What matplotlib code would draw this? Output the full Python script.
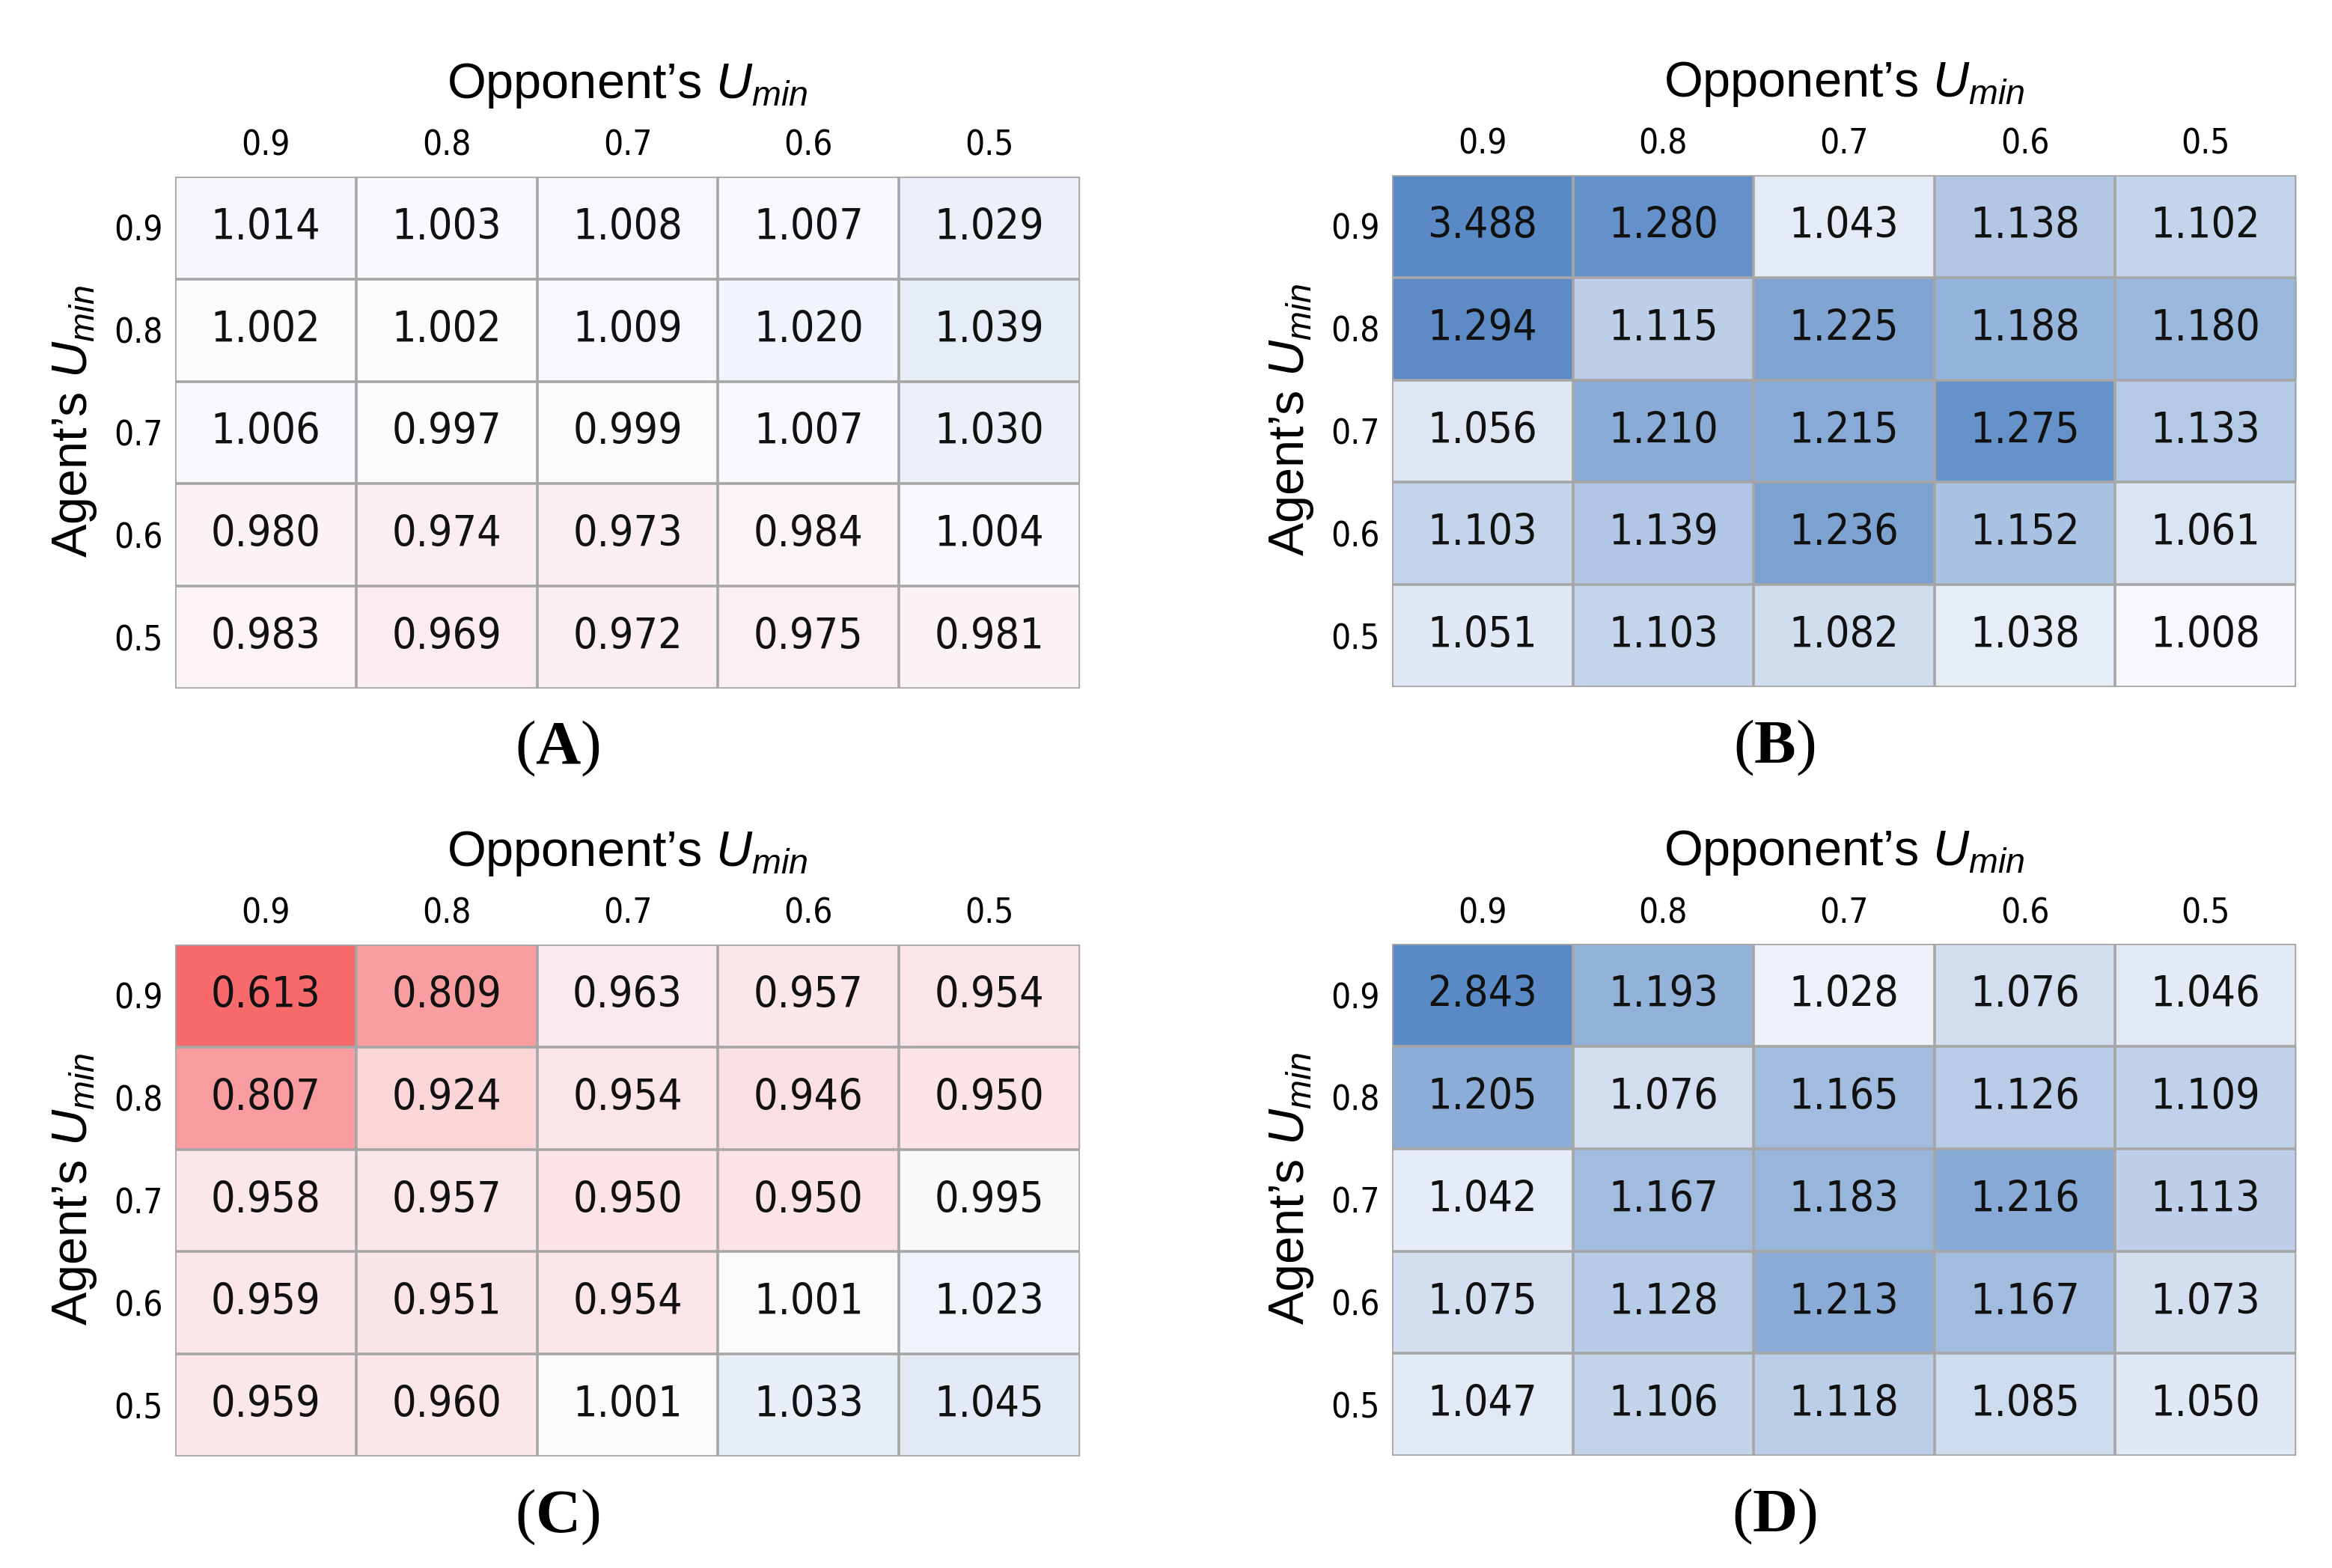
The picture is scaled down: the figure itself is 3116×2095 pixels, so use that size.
import numpy as np
import matplotlib.pyplot as plt
from matplotlib.colors import LinearSegmentedColormap, TwoSlopeNorm

plt.rcParams['mathtext.fontset'] = 'custom'
plt.rcParams['mathtext.it'] = 'Liberation Sans:italic'
plt.rcParams['mathtext.rm'] = 'Liberation Serif'
plt.rcParams['mathtext.bf'] = 'Liberation Serif:bold'

# Data (rows: agent's Umin, cols: opponent's Umin)
umin_labels = ['0.9', '0.8', '0.7', '0.6', '0.5']
panel_names = ['A', 'B', 'C', 'D']

vals_A = [[1.014, 1.003, 1.008, 1.007, 1.029],
          [1.002, 1.002, 1.009, 1.020, 1.039],
          [1.006, 0.997, 0.999, 1.007, 1.030],
          [0.980, 0.974, 0.973, 0.984, 1.004],
          [0.983, 0.969, 0.972, 0.975, 0.981]]
vals_B = [[3.488, 1.280, 1.043, 1.138, 1.102],
          [1.294, 1.115, 1.225, 1.188, 1.180],
          [1.056, 1.210, 1.215, 1.275, 1.133],
          [1.103, 1.139, 1.236, 1.152, 1.061],
          [1.051, 1.103, 1.082, 1.038, 1.008]]
vals_C = [[0.613, 0.809, 0.963, 0.957, 0.954],
          [0.807, 0.924, 0.954, 0.946, 0.950],
          [0.958, 0.957, 0.950, 0.950, 0.995],
          [0.959, 0.951, 0.954, 1.001, 1.023],
          [0.959, 0.960, 1.001, 1.033, 1.045]]
vals_D = [[2.843, 1.193, 1.028, 1.076, 1.046],
          [1.205, 1.076, 1.165, 1.126, 1.109],
          [1.042, 1.167, 1.183, 1.216, 1.113],
          [1.075, 1.128, 1.213, 1.167, 1.073],
          [1.047, 1.106, 1.118, 1.085, 1.050]]

# excel-style red / white / blue scale
cmap = LinearSegmentedColormap.from_list('rwb', ['#F8696B', '#FCFCFF', '#5A8AC6'])
norm = TwoSlopeNorm(vmin=0.7, vcenter=1.0, vmax=1.3)

num_font = 'DejaVu Sans'
grid_col = '#A6A6A6'

fig = plt.figure(figsize=(15.58, 10.475), dpi=200)
positions = [[0.0751, 0.5609, 0.3880, 0.3265],
             [0.5969, 0.5618, 0.3877, 0.3265],
             [0.0751, 0.0711, 0.3880, 0.3265],
             [0.5969, 0.0715, 0.3877, 0.3265]]

for name, vals, pos in zip(panel_names, [vals_A, vals_B, vals_C, vals_D], positions):
    data = np.array(vals)
    ax = fig.add_axes(pos)
    ax.imshow(data, cmap=cmap, norm=norm, aspect='auto', interpolation='nearest')

    for k in range(6):
        ax.axhline(k - 0.5, color=grid_col, lw=1.3)
        ax.axvline(k - 0.5, color=grid_col, lw=1.3)
    for s in ax.spines.values():
        s.set_visible(False)

    for i in range(5):
        for j in range(5):
            ax.text(j, i, f'{data[i, j]:.3f}', ha='center', va='center',
                    fontsize=20.5, family=num_font, fontstretch='condensed',
                    color='#111111')

    ax.set_xticks(range(5))
    ax.set_xticklabels(umin_labels, family=num_font, fontstretch='condensed', fontsize=16.5)
    ax.set_yticks(range(5))
    ax.set_yticklabels(umin_labels, family=num_font, fontstretch='condensed', fontsize=16.5)
    ax.xaxis.tick_top()
    ax.tick_params(axis='x', length=0, pad=6.5)
    ax.tick_params(axis='y', length=0, pad=6)
    ax.set_xlim(-0.5, 4.5)
    ax.set_ylim(4.5, -0.5)

    ax.text(0.5, 1.178, 'Opponent’s $U_{min}$', transform=ax.transAxes,
            ha='center', va='center', fontsize=24, family='Liberation Sans')
    ax.text(-0.111, 0.522, 'Agent’s $U_{min}$', transform=ax.transAxes, rotation=90,
            ha='center', va='center', fontsize=24, family='Liberation Sans')
    ax.text(0.423, -0.117, r'$(\mathbf{' + name + '})$', transform=ax.transAxes,
            ha='center', va='center', fontsize=30)

fig.savefig('out.png', dpi=200, facecolor='white')
